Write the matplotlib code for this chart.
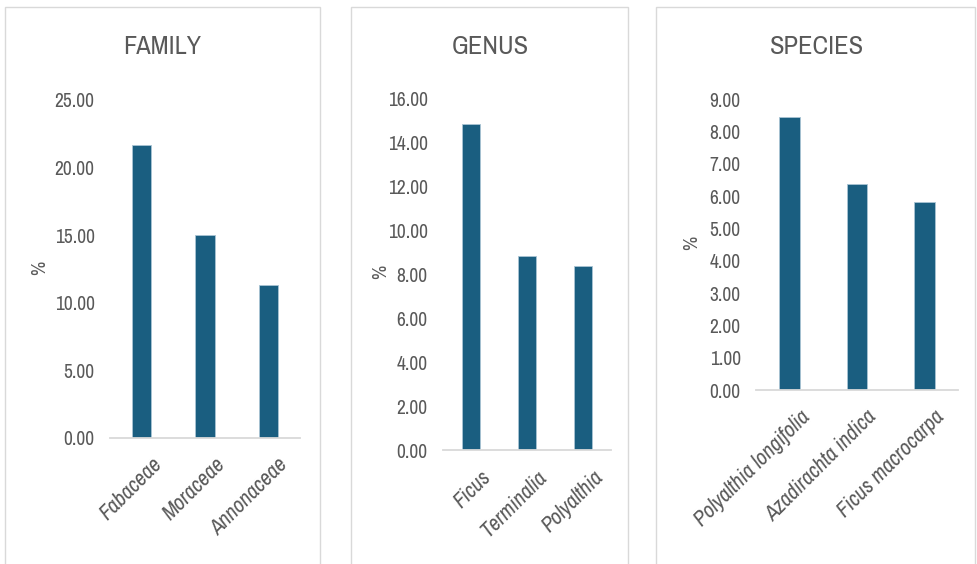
import numpy as np
import matplotlib.pyplot as plt
import matplotlib.transforms as mtransforms
from matplotlib.patches import Rectangle
from matplotlib import font_manager

# dane
family_names = ['Fabaceae', 'Moraceae', 'Annonaceae']
family_vals = [21.7, 15.0, 11.3]
genus_names = ['Ficus', 'Terminalia', 'Polyalthia']
genus_vals = [14.85, 8.84, 8.40]
species_names = ['Polyalthia longifolia', 'Azadirachta indica', 'Ficus macrocarpa']
species_vals = [8.44, 6.36, 5.80]

W, H = 977, 564
bar_color = '#1a5e80'
txt_color = '#595959'

# szukamy waskiej czcionki (jesli jest)
narrow = [f.name for f in font_manager.fontManager.ttflist
          if 'Narrow' in f.name or 'Condensed' in f.name]
plt.rcParams['font.family'] = narrow[:1] + ['DejaVu Sans']
plt.rcParams['font.stretch'] = 'condensed'

fig = plt.figure(figsize=(W / 100, H / 100), dpi=100)


def box(x0, x1, y0, y1):
    # piksele -> ulamki figury
    return [x0 / W, 1 - y1 / H, (x1 - x0) / W, (y1 - y0) / H]


panels = [
    # nazwy, wartosci, tytul, ymax, krok, ramka, osie, tytul (x, y), % (x, y)
    (family_names, family_vals, 'FAMILY', 25, 5, (5, 320), (110, 300, 100, 437.7), (162, 47), (40, 268)),
    (genus_names, genus_vals, 'GENUS', 16, 2, (351, 628), (443, 611, 99, 450), (490, 47), (381, 272)),
    (species_names, species_vals, 'SPECIES', 9, 1, (656, 975), (756, 958, 99, 390), (817, 47), (692, 243)),
]

for names, vals, title, ymax, step, (bx0, bx1), (ax0, ax1, ay0, ay1), (tx, ty), (px, py) in panels:
    # ramka panelu
    fig.patches.append(Rectangle((bx0 / W, -0.05), (bx1 - bx0) / W, 1.05 - 7 / H,
                                 transform=fig.transFigure, fill=False,
                                 edgecolor='#d9d9d9', linewidth=1))
    ax = fig.add_axes(box(ax0, ax1, ay0, ay1))
    x = np.arange(len(names))
    ax.bar(x, vals, width=0.31, color=bar_color, edgecolor='#a9c4d4', linewidth=0.6)
    ax.set_xlim(-0.5, len(names) - 0.5)
    ax.set_ylim(0, ymax)
    ax.set_yticks(np.arange(0, ymax + 0.01, step))
    ax.set_yticklabels([f'{v:.2f}' for v in np.arange(0, ymax + 0.01, step)])
    ax.set_xticks(x)
    ax.set_xticklabels(names, rotation=45, ha='right', rotation_mode='anchor', style='italic')
    ax.tick_params(axis='both', length=0, colors=txt_color, labelsize=14)
    ax.tick_params(axis='x', labelsize=15.5, pad=12)
    ax.tick_params(axis='y', pad=11)
    # przesuniecie podpisow osi x w prawo
    shift = mtransforms.ScaledTranslation(10 / 100, 0, fig.dpi_scale_trans)
    for lab in ax.get_xticklabels():
        lab.set_transform(lab.get_transform() + shift)
    for s in ['top', 'right', 'left']:
        ax.spines[s].set_visible(False)
    ax.spines['bottom'].set_color('#d9d9d9')
    ax.spines['bottom'].set_linewidth(1.3)
    fig.text(tx / W, 1 - ty / H, title, ha='center', va='center', fontsize=19, color=txt_color)
    fig.text(px / W, 1 - py / H, '%', ha='center', va='center', rotation=90, fontsize=14, color=txt_color)

fig.savefig('out.png', dpi=100, facecolor='white')
